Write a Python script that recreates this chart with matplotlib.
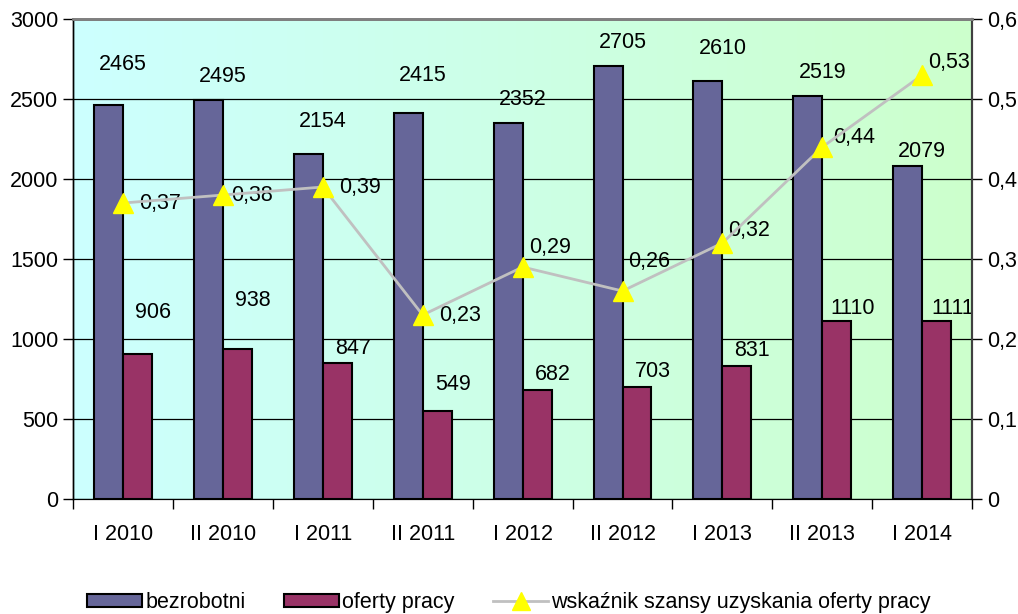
import matplotlib.pyplot as plt
import numpy as np
from matplotlib.colors import LinearSegmentedColormap
from matplotlib.lines import Line2D
from matplotlib.patches import Patch

plt.rcParams['font.family'] = ['Liberation Sans', 'DejaVu Sans']

# data
periods = ['I 2010', 'II 2010', 'I 2011', 'II 2011', 'I 2012',
           'II 2012', 'I 2013', 'II 2013', 'I 2014']
bezrobotni = [2465, 2495, 2154, 2415, 2352, 2705, 2610, 2519, 2079]
oferty = [906, 938, 847, 549, 682, 703, 831, 1110, 1111]
wskaznik = [0.37, 0.38, 0.39, 0.23, 0.29, 0.26, 0.32, 0.44, 0.53]

# label offsets (points), Excel-like placement
bez_dy = [29, 17, 24, 27, 17, 17, 24, 17, 11]
ofe_dy = [30, 35, 11, 19, 11, 11, 11, 9, 9]
wsk_dx = [12, 6, 12, 12, 5, 4, 4, 8, 4]
wsk_dy = [0, 0, 0, 0, 14, 21, 9, 7, 9]

FS = 15.5

def pl(v, d=2):
    return f"{v:.{d}f}".replace('.', ',')

fig = plt.figure(figsize=(10.18, 6.14), dpi=100)
ax = fig.add_axes([0.0717, 0.1873, 0.8833, 0.7817])
ax2 = ax.twinx()

# background gradient
cmap = LinearSegmentedColormap.from_list('bg', ['#CCFFFF', '#CCFFCC'])
grad = np.linspace(0, 1, 256).reshape(1, -1)
ax.imshow(grad, aspect='auto', cmap=cmap, extent=[0, 1, 0, 1],
          transform=ax.transAxes, zorder=0)

x = np.arange(len(periods))
w = 0.29
ax.bar(x - w / 2, bezrobotni, w, color='#666699', edgecolor='black', linewidth=1.5, zorder=3)
ax.bar(x + w / 2, oferty, w, color='#993366', edgecolor='black', linewidth=1.5, zorder=3)

for i in range(len(x)):
    ax.annotate(str(bezrobotni[i]), (x[i], bezrobotni[i]), xytext=(0, bez_dy[i]),
                textcoords='offset points', ha='center', va='center', fontsize=FS, zorder=5)
    ax.annotate(str(oferty[i]), (x[i] + 0.3, oferty[i]), xytext=(0, ofe_dy[i]),
                textcoords='offset points', ha='center', va='center', fontsize=FS, zorder=5)

ax.set_ylim(0, 3000)
ax.set_yticks(range(0, 3001, 500))
ax.set_xlim(-0.5, len(periods) - 0.5)
ax.yaxis.grid(True, color='black', linewidth=0.9)
ax.set_axisbelow(False)
for gl in ax.get_ygridlines():
    gl.set_zorder(1)

ax.set_xticks(x)
ax.set_xticklabels(periods, fontsize=FS)
ax.set_xticks(np.arange(-0.5, len(periods)), minor=True)
ax.tick_params(axis='x', which='major', length=0, pad=18)
ax.tick_params(axis='x', which='minor', length=7, direction='out', width=1)
ax.tick_params(axis='y', labelsize=FS, length=7, width=1)

ax2.plot(x, wskaznik, color='#C0C0C0', linewidth=2, marker='^', markersize=15,
         markerfacecolor='#FFFF00', markeredgecolor='#FFFF00', zorder=4)
for i in range(len(x)):
    ax2.annotate(pl(wskaznik[i]), (x[i], wskaznik[i]), xytext=(wsk_dx[i], wsk_dy[i]),
                 textcoords='offset points', ha='left', va='center', fontsize=FS)
ax2.set_ylim(0, 0.6)
ax2.set_yticks(np.arange(0, 0.61, 0.1))
ax2.set_yticklabels(['0'] + [pl(v, 1) for v in np.arange(0.1, 0.61, 0.1)])
ax2.tick_params(axis='y', labelsize=FS, length=7, width=1)

for a in (ax, ax2):
    a.spines['top'].set_color('#808080')
    a.spines['top'].set_linewidth(2)
    a.spines['left'].set_linewidth(1)
    a.spines['right'].set_color('#404040')
    a.spines['right'].set_linewidth(1.5)

handles = [Patch(facecolor='#666699', edgecolor='black', linewidth=1.5),
           Patch(facecolor='#993366', edgecolor='black', linewidth=1.5),
           Line2D([], [], color='#C0C0C0', linewidth=2, marker='^', markersize=13,
                  markerfacecolor='#FFFF00', markeredgecolor='#FFFF00')]
fig.legend(handles, ['bezrobotni', 'oferty pracy', 'wskaźnik szansy uzyskania oferty pracy'],
           loc='lower center', bbox_to_anchor=(0.5, -0.03), ncol=3, frameon=False,
           fontsize=FS, handlelength=2.55, handleheight=0.6, handletextpad=0.15, columnspacing=1.8)

fig.savefig('out.png', dpi=100)
